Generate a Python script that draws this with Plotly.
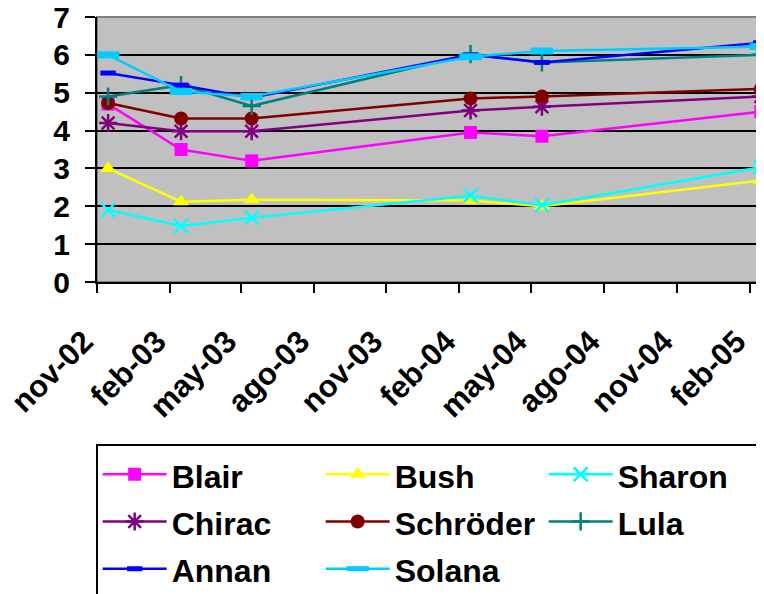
import plotly.graph_objects as go

# survey dates (mid-month) and ratings
fechas = ["2002-11-15", "2003-02-15", "2003-05-15", "2004-02-15", "2004-05-15", "2005-02-15"]

blair = [4.7, 3.5, 3.2, 3.95, 3.85, 4.5]
bush = [3.0, 2.12, 2.17, 2.15, 2.0, 2.68]
sharon = [1.9, 1.48, 1.7, 2.28, 2.03, 3.03]
chirac = [4.2, 3.98, 3.98, 4.53, 4.63, 4.9]
schroder = [4.73, 4.32, 4.32, 4.85, 4.9, 5.1]
lula = [4.9, 5.2, 4.65, 6.02, 5.8, 6.0]
annan = [5.52, 5.2, 4.87, 6.0, 5.8, 6.32]
solana = [6.0, 5.03, 4.9, 5.95, 6.1, 6.22]

tick_fechas = ["2002-11-01", "2003-02-01", "2003-05-01", "2003-08-01", "2003-11-01",
               "2004-02-01", "2004-05-01", "2004-08-01", "2004-11-01", "2005-02-01"]
tick_labels = ["nov-02", "feb-03", "may-03", "ago-03", "nov-03",
               "feb-04", "may-04", "ago-04", "nov-04", "feb-05"]

FONT = "Liberation Sans, Arial, sans-serif"

series = [
    ("Blair", blair, "#FF00FF", dict(symbol="square", size=13)),
    ("Bush", bush, "#FFFF00", dict(symbol="triangle-up", size=14)),
    ("Sharon", sharon, "#00FFFF", dict(symbol="x-thin-open", size=14, line=dict(width=2.5, color="#00FFFF"))),
    ("Chirac", chirac, "#800080", dict(symbol="asterisk-open", size=15, line=dict(width=2.5, color="#800080"))),
    ("Schröder", schroder, "#800000", dict(symbol="circle", size=14)),
    ("Lula", lula, "#008080", dict(symbol="cross-thin-open", size=13, line=dict(width=2.5, color="#008080"))),
    ("Annan", annan, "#0000FF", dict(symbol="line-ew-open", size=11, line=dict(width=5, color="#0000FF"))),
    ("Solana", solana, "#00CCFF", dict(symbol="line-ew-open", size=16, line=dict(width=7, color="#00CCFF"))),
]

fig = go.Figure()
for name, vals, col, mk in series:
    fig.add_trace(go.Scatter(
        x=fechas, y=vals, mode="lines+markers",
        name='<span style="font-size:32px">' + name + "</span>",
        line=dict(color=col, width=2.5),
        marker=dict(color=col, **mk),
        cliponaxis=False,
    ))

# page body adds an 8px offset, so the figure is 8px smaller and margins shifted
fig.update_layout(
    width=756, height=586,
    margin=dict(l=89, r=0, t=9, b=312, autoexpand=False),
    paper_bgcolor="white",
    plot_bgcolor="#C0C0C0",
    font=dict(family=FONT, color="black"),
    showlegend=True,
    legend=dict(
        orientation="h", x=-0.002, xanchor="left", y=-0.61, yanchor="top",
        font=dict(family=FONT, size=34, weight="bold", color="black"),
        bordercolor="black", borderwidth=2, bgcolor="white",
        itemwidth=64, entrywidth=144, traceorder="normal",
    ),
)

fig.update_xaxes(
    type="date", range=["2002-11-01", "2005-02-19"],
    tickvals=tick_fechas, ticktext=tick_labels, tickangle=-45,
    tickfont=dict(family=FONT, size=31, weight="bold", color="black"),
    ticks="outside", ticklen=9, tickwidth=2, tickcolor="black",
    showline=True, linecolor="black", linewidth=2, automargin=False,
    showgrid=False, zeroline=False, ticklabelstandoff=18, ticklabelshift=-13,
    ticklabeloverflow="allow",
)
fig.update_yaxes(
    range=[0, 7], dtick=1, tick0=0,
    tickfont=dict(family=FONT, size=30, weight="bold", color="black"),
    ticks="outside", ticklen=10, tickwidth=2, tickcolor="black",
    showline=True, linecolor="black", linewidth=2, automargin=False,
    showgrid=True, gridcolor="black", gridwidth=2, zeroline=False,
    ticklabelstandoff=9, ticklabeloverflow="allow",
)
# plot area frame (grey) like the spreadsheet chart
fig.add_shape(type="rect", xref="paper", yref="paper", x0=0, x1=1, y0=0, y1=1,
              line=dict(color="#808080", width=2), layer="below")

fig.write_html("out.html")
